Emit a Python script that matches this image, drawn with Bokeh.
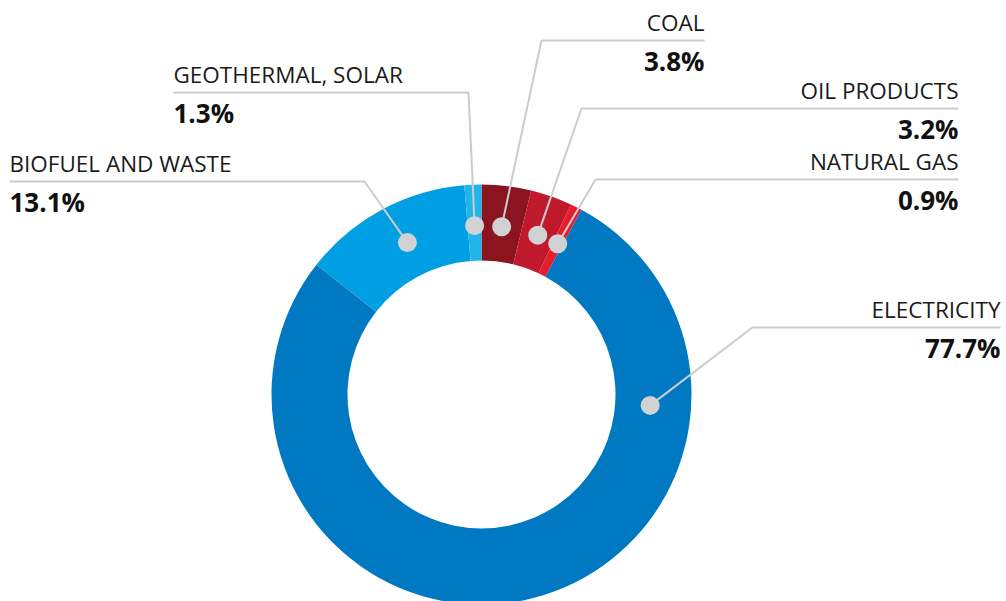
import math
from bokeh.plotting import figure
from bokeh.models import Range1d, ColumnDataSource
from bokeh.core.properties import value
from bokeh.embed import file_html
from bokeh.resources import INLINE

# ---- data ----
categories = ["COAL", "OIL PRODUCTS", "NATURAL GAS", "ELECTRICITY", "BIOFUEL AND WASTE", "GEOTHERMAL, SOLAR"]
shares = [3.8, 3.2, 0.9, 77.7, 13.1, 1.3]
value_labels = ["3.8%", "3.2%", "0.9%", "77.7%", "13.1%", "1.3%"]

# ---- styles / layout ----
colors = ["#8a1420", "#c0192c", "#e41e2e", "#0079c2", "#009fe3", "#22b5ea"]
W, H = 1006, 601
def Y(page_y):
    return H - page_y

cx, cy = 481, Y(394)
r_out, r_in = 210, 134
r_dot = 169
dot_angle_override = [None, None, None, -3.7, 116.0, None]
elbow = [(541, 40), (581, 108), (595, 179), (752, 327), (364, 181), (468, 92)]
line_end = [704, 958, 958, 1000, 9, 173]
side = ["right", "right", "right", "right", "left", "left"]

total = sum(shares)
starts, ends, mids = [], [], []
cum = 0.0
for s in shares:
    a0 = math.pi / 2 - 2 * math.pi * cum / total
    cum += s
    a1 = math.pi / 2 - 2 * math.pi * cum / total
    starts.append(a0)
    ends.append(a1)
    mids.append((a0 + a1) / 2)

p = figure(width=W, height=H, output_backend="svg", toolbar_location=None,
           x_range=Range1d(0, W), y_range=Range1d(0, H), min_border=0)
p.axis.visible = False
p.grid.visible = False
p.outline_line_color = None
p.background_fill_color = "white"

src = ColumnDataSource(dict(start=starts, end=ends, color=colors, cat=categories))
p.annular_wedge(x=cx, y=cy, inner_radius=r_in, outer_radius=r_out,
                start_angle="start", end_angle="end", direction="clock",
                fill_color="color", line_color=None, source=src)

dot_x, dot_y = [], []
for i, m in enumerate(mids):
    a = m if dot_angle_override[i] is None else math.radians(dot_angle_override[i])
    dot_x.append(cx + r_dot * math.cos(a))
    dot_y.append(cy + r_dot * math.sin(a))

line_color = "#cccccc"
for i in range(len(categories)):
    ex, ey = elbow[i]
    p.line([dot_x[i], ex, line_end[i]], [dot_y[i], Y(ey), Y(ey)],
           line_color=line_color, line_width=2)

p.scatter(dot_x, dot_y, size=19, fill_color="#d1d2d4", line_color=None)

for i in range(len(categories)):
    ey = elbow[i][1]
    align = side[i]
    p.text([line_end[i]], [Y(ey - 18)], text=[categories[i]], text_align=align,
           text_baseline="alphabetic", text_font=value("Open Sans"),
           text_font_size="22.5px", text_color="#1a1a1a")
    p.text([line_end[i]], [Y(ey + 20)], text=[value_labels[i]], text_align=align,
           text_baseline="alphabetic", text_font=value("Open Sans"),
           text_font_size="26px", text_font_style="bold", text_color="#111111")

open("out.html", "w").write(file_html(p, INLINE))
